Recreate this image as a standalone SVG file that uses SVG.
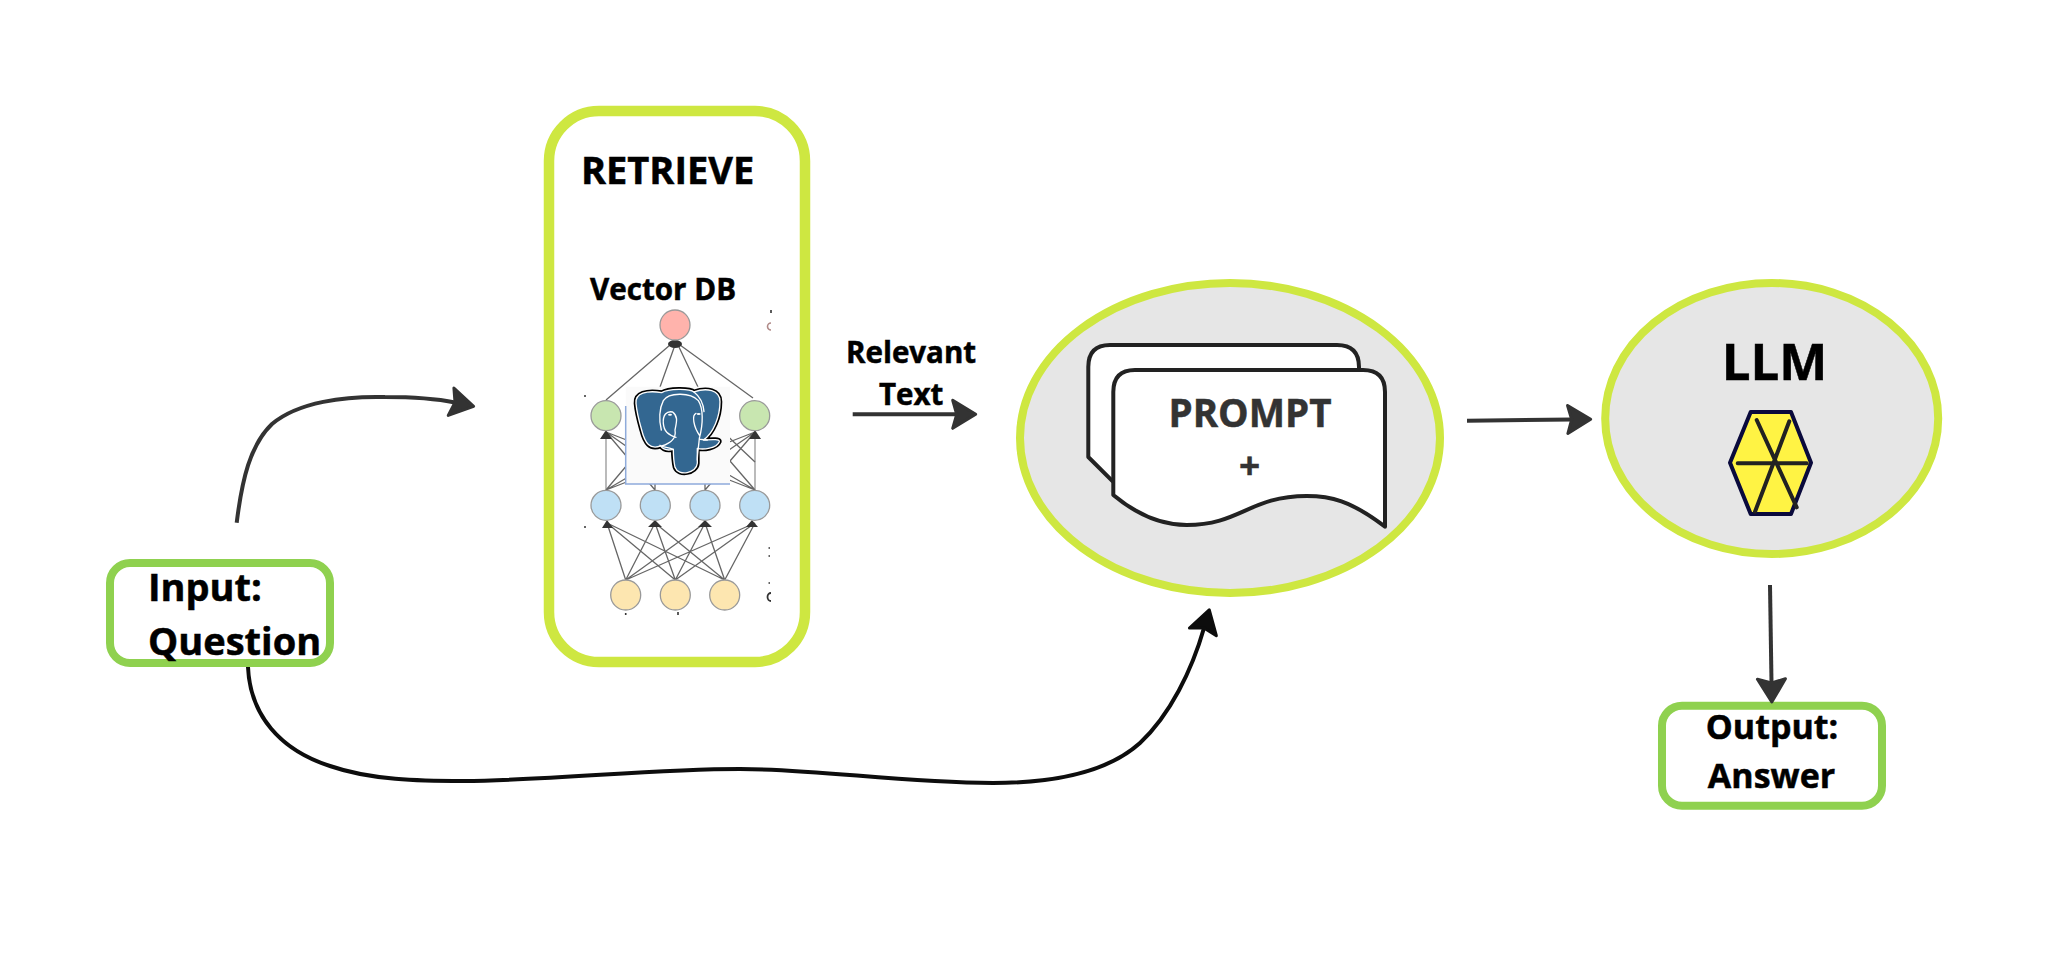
<svg xmlns="http://www.w3.org/2000/svg" width="2048" height="955" viewBox="0 0 2048 955">
<style>
text{font-family:"Open Sans","Noto Sans","Liberation Sans",sans-serif;font-weight:700;fill:#000;stroke:#000;stroke-width:.5}
text.g{fill:#333;stroke:#333}
.box{fill:#fff;stroke:#8fd14f;stroke-width:8}
.ell{fill:#e6e6e6;stroke:#cee741;stroke-width:8}
.doc{fill:#fff;stroke:#222;stroke-width:4;stroke-linejoin:round}
.edge{stroke:#666;stroke-width:1.3;fill:none}
.tip{fill:#333}
.n{stroke:#999;stroke-width:1.3}
.pink{fill:#ffb3ac}.green{fill:#c8e6b0}.blue{fill:#bfe0f5}.yel{fill:#fde6b0}
.c{fill:none;stroke:#333;stroke-width:4}
.cb{fill:none;stroke:#0d0d0d;stroke-width:4}
.hl{stroke:#222;stroke-width:4;stroke-linecap:round}
</style>
<defs>
<marker id="ah" markerUnits="userSpaceOnUse" viewBox="-10 -20 36 40" markerWidth="36" markerHeight="40" refX="0" refY="0" orient="auto"><path d="M-4,-14 L19,0 L-4,14 L0,0Z" fill="#333" stroke="#333" stroke-width="3" stroke-linejoin="round"/></marker>
<marker id="ahb" markerUnits="userSpaceOnUse" viewBox="-10 -20 36 40" markerWidth="36" markerHeight="40" refX="0" refY="0" orient="auto"><path d="M-4,-14 L19,0 L-4,14 L0,0Z" fill="#0d0d0d" stroke="#0d0d0d" stroke-width="3" stroke-linejoin="round"/></marker>
</defs>
<rect width="2048" height="955" fill="#fff"/>
<g id="node-input">
<rect class="box" x="110" y="563" width="220" height="100" rx="20"/>
<text x="148" y="600.5" font-size="38">Input:</text>
<text x="148" y="655" font-size="38">Question</text>
</g>
<g id="node-retrieve">
<rect x="549" y="111" width="256" height="551" rx="50" fill="#fff" stroke="#cee741" stroke-width="10.5"/>
<text x="581" y="184" font-size="38">RETRIEVE</text>
<text x="590" y="300" font-size="29.6">Vector DB</text>
<g id="network">
<path class="edge" d="M670,345 L606,400 M675,345 L660,387 M678,345 L698,387 M680,345 L753,398"/>
<path d="M606,490V432M755,490V432" stroke="#aaa" stroke-width="1.6" fill="none"/>
<path class="edge" d="M606,490L655,432M606,490L705,432M606,490L755,432M755,490L606,432M755,490L655,432M755,490L705,432M655,490L606,432M705,490L755,432M655,490L655,432M705,490L705,432M606,432L660,470M755,432L700,470M755,462L700,410"/>
<path class="edge" d="M625.7,580L607,523M625.7,580L655,523M625.7,580L705,523M625.7,580L755,523M675.3,580L607,523M675.3,580L655,523M675.3,580L705,523M675.3,580L755,523M724.7,580L607,523M724.7,580L655,523M724.7,580L705,523M724.7,580L755,523"/>
<ellipse class="tip" cx="675" cy="344" rx="7" ry="4"/>
<path class="tip" d="M606,430l-6,9h12zM755,430l-6,9h12zM607,520l-5,8h11zM655,520l-7,7h14zM705,520l-7,7h14zM752,520l-6,7h12z"/>
<circle class="n pink" cx="675" cy="325" r="15"/>
<circle class="n green" cx="606" cy="415.7" r="15"/>
<circle class="n green" cx="754.7" cy="415.7" r="15"/>
<circle class="n blue" cx="606" cy="505.3" r="15"/>
<circle class="n blue" cx="655.3" cy="505.3" r="15"/>
<circle class="n blue" cx="705" cy="505.3" r="15"/>
<circle class="n blue" cx="754.7" cy="505.3" r="15"/>
<circle class="n yel" cx="625.7" cy="595" r="15"/>
<circle class="n yel" cx="675.3" cy="595" r="15"/>
<circle class="n yel" cx="724.7" cy="595" r="15"/>
<path d="M586,396h-2M586,527h-2M770,548h-1.5M770,556h-1.5M770,583h-1.5M625.7,615v-2M678,615v-3M771,313v-3" stroke="#333" stroke-width="1.6" fill="none"/>
<path d="M771,323a3.5,3.5 0 0 0 0,7" stroke="#b08a88" stroke-width="1.6" fill="none"/>
<path d="M771,593a3.5,4 0 0 0 0,8" stroke="#333" stroke-width="1.8" fill="none"/>
</g>
<g id="postgres">
<rect x="625.7" y="386.7" width="104.3" height="97.3" fill="#fafafa"/>
<path d="M625.7,406V484H730" fill="none" stroke="#8fabdb" stroke-width="1.5"/>
<g transform="translate(620 380) scale(.3333)">
<path d="M48,70C45,40 80,30 125,38C145,25 210,25 222,36C260,22 300,30 300,65C300,110 280,160 250,180C262,180 300,175 298,185C290,205 250,210 232,205L232,250C230,280 175,290 165,262C160,240 160,225 160,208C145,212 130,210 122,198C90,210 75,190 65,150C55,115 50,95 48,70Z" fill="#000" stroke="#000" stroke-width="14" stroke-linejoin="round"/>
<path d="M48,70C45,40 80,30 125,38C145,25 210,25 222,36C260,22 300,30 300,65C300,110 280,160 250,180C262,180 300,175 298,185C290,205 250,210 232,205L232,250C230,280 175,290 165,262C160,240 160,225 160,208C145,212 130,210 122,198C90,210 75,190 65,150C55,115 50,95 48,70Z" fill="#336791" stroke="#fff" stroke-width="4" stroke-linejoin="round"/>
<path d="M125,198C150,190 170,178 165,150C170,125 175,110 158,96C140,92 128,105 130,130C132,155 145,165 168,172M130,62C145,38 210,35 235,62C250,85 250,130 238,175C236,200 232,220 232,240M130,62C118,85 116,120 124,150M222,36C240,50 250,70 252,95M240,178L262,180M228,100C215,105 220,140 240,168M160,208C140,200 125,202 120,196" fill="none" stroke="#fff" stroke-width="4" stroke-linecap="round"/>
<ellipse cx="150" cy="104" rx="6" ry="3" fill="#fff"/><ellipse cx="236" cy="102" rx="6" ry="3" fill="#fff"/>
</g>
</g>
</g>
<g id="label-relevant">
<text x="846" y="363" font-size="29.5">Relevant</text>
<text x="879" y="405" font-size="29.5">Text</text>
</g>
<g id="node-prompt">
<ellipse class="ell" cx="1230" cy="438" rx="210" ry="155"/>
<path d="M1113,481.7L1088.3,457V367Q1088.3,345 1110,345H1337Q1359,345 1359,367V390H1113Z" fill="#fff"/>
<path class="doc" style="fill:none" d="M1113,481.7L1088.3,457V367Q1088.3,345 1110,345H1337Q1359,345 1359,367V372"/>
<path class="doc" d="M1113.3,495V392Q1113.3,370 1135,370H1363Q1385,370 1385,392V526.7C1350,500 1330,496 1306.7,496C1250,496 1240,525 1186.7,525C1160,525 1135,513 1113.3,495Z"/>
<text class="g" x="1250" y="426.7" font-size="38.5" text-anchor="middle">PROMPT</text>
<text class="g" x="1249.5" y="479" font-size="37" text-anchor="middle">+</text>
</g>
<g id="node-llm">
<ellipse class="ell" cx="1771.7" cy="418.5" rx="166.5" ry="135.5"/>
<text x="1774.5" y="380" font-size="51" text-anchor="middle">LLM</text>
<polygon points="1730,462.7 1750.7,412 1791,412 1811,462.7 1791,514 1750.7,514" fill="#fff344" stroke="#0a0a3c" stroke-width="4" stroke-linejoin="round"/>
<path class="hl" d="M1756.7,420L1796.7,507.3M1789.3,421.3L1755,511.7M1737.7,463.3H1806.7"/>
</g>
<g id="node-output">
<rect class="box" x="1662" y="705.7" width="220" height="100" rx="20"/>
<text x="1772" y="739.3" font-size="34" text-anchor="middle">Output:</text>
<text x="1771.5" y="788.3" font-size="34" text-anchor="middle">Answer</text>
</g>
<g id="connectors">
<path class="c" marker-end="url(#ah)" d="M236.7,522.7C242,480 250,445 272,424C298,402 345,396 385,397C415,397 438,399 455,402.5"/>
<path class="c" marker-end="url(#ah)" d="M852.7,414.3H956.7"/>
<path class="c" marker-end="url(#ah)" d="M1467,420.7L1571.7,419.5"/>
<path class="c" marker-end="url(#ah)" d="M1770,585L1771.5,683"/>
<path class="cb" marker-end="url(#ahb)" d="M248,667C250,715 280,750 330,766C370,780 420,781 463,781C560,780 650,769 740,769C820,769 900,783 993,783C1060,783 1110,770 1140,743C1170,715 1192,670 1204,628"/>
</g>
</svg>
